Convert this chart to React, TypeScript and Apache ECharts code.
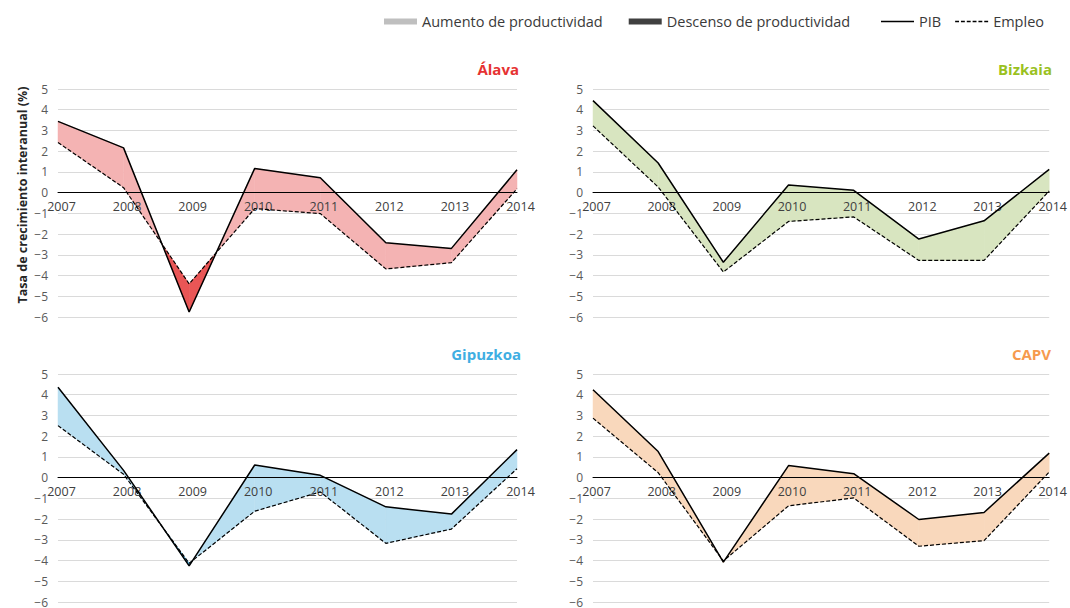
import React, { useEffect, useRef } from 'react';
import * as echarts from 'echarts';

// ---------- data ----------
const years = ['2007', '2008', '2009', '2010', '2011', '2012', '2013', '2014'];
const regionNames = ['Álava', 'Bizkaia', 'Gipuzkoa', 'CAPV'];

const pibAlava = [3.44, 2.16, -5.76, 1.17, 0.72, -2.42, -2.69, 1.1];
const empAlava = [2.42, 0.24, -4.4, -0.77, -1.01, -3.68, -3.38, 0.19];
const pibBizkaia = [4.44, 1.43, -3.36, 0.37, 0.11, -2.24, -1.36, 1.12];
const empBizkaia = [3.22, 0.27, -3.83, -1.39, -1.17, -3.27, -3.27, 0.08];
const pibGipuzkoa = [4.36, 0.35, -4.26, 0.61, 0.11, -1.41, -1.76, 1.35];
const empGipuzkoa = [2.51, 0.16, -4.13, -1.62, -0.69, -3.17, -2.48, 0.43];
const pibCAPV = [4.24, 1.26, -4.08, 0.58, 0.19, -2.02, -1.68, 1.18];
const empCAPV = [2.87, 0.24, -4.02, -1.36, -0.98, -3.31, -3.04, 0.27];

const yMin = -6;
const yMax = 5;

const legendAreaNames = ['Aumento de productividad', 'Descenso de productividad'];
const legendLineNames = ['PIB', 'Empleo'];
const yAxisTitle = 'Tasa de crecimiento interanual (%)';

// ---------- styles ----------
const FONT = 'Open Sans';
const panels = [
  { name: regionNames[0], pib: pibAlava, emp: empAlava, title: '#E63232', light: '#F4B3B3', dark: '#E95656', left: 58, top: 89, titleRight: 551, titleTop: 61 },
  { name: regionNames[1], pib: pibBizkaia, emp: empBizkaia, title: '#9AC11F', light: '#D8E5C0', dark: '#9AC11F', left: 593, top: 89, titleRight: 18, titleTop: 61 },
  { name: regionNames[2], pib: pibGipuzkoa, emp: empGipuzkoa, title: '#3FAEE2', light: '#B9DFF1', dark: '#3FAEE2', left: 58, top: 374, titleRight: 549, titleTop: 346 },
  { name: regionNames[3], pib: pibCAPV, emp: empCAPV, title: '#F69A4E', light: '#F9D8BC', dark: '#F69A4E', left: 593, top: 374, titleRight: 19, titleTop: 346 },
];
const GRID_W = 459;
const GRID_H = 228;
// move the category axis (line + labels) up to the value 0 of the value axis
const ZERO_OFFSET = -GRID_H * (0 - yMin) / (yMax - yMin);

function makeRenderItem(light: string, dark: string) {
  return (params: any, api: any) => {
    const i = api.value(0);
    const p0 = api.value(1);
    const e0 = api.value(2);
    const p1 = api.value(3);
    const e1 = api.value(4);
    const P0 = api.coord([i, p0]);
    const E0 = api.coord([i, e0]);
    const P1 = api.coord([i + 1, p1]);
    const E1 = api.coord([i + 1, e1]);
    const d0 = p0 - e0;
    const d1 = p1 - e1;
    const col = (d: number) => (d >= 0 ? light : dark);
    const children: any[] = [];
    if (d0 * d1 < 0) {
      const t = d0 / (d0 - d1);
      const C = [P0[0] + t * (P1[0] - P0[0]), P0[1] + t * (P1[1] - P0[1])];
      children.push({ type: 'polygon', shape: { points: [P0, C, E0] }, style: { fill: col(d0), stroke: col(d0), lineWidth: 0.5 } });
      children.push({ type: 'polygon', shape: { points: [C, P1, E1] }, style: { fill: col(d1), stroke: col(d1), lineWidth: 0.5 } });
    } else {
      const c = col(d0 + d1);
      children.push({ type: 'polygon', shape: { points: [P0, P1, E1, E0] }, style: { fill: c, stroke: c, lineWidth: 0.5 } });
    }
    return { type: 'group', children };
  };
}

const fmtY = (v: number) => (v < 0 ? '\u2212' + Math.abs(v) : String(v));

function buildOption() {
  const grid = panels.map((p) => ({ left: p.left, top: p.top, width: GRID_W, height: GRID_H, containLabel: false }));
  const xAxis = panels.map((p, i) => ({
    gridIndex: i,
    type: 'category',
    data: years,
    boundaryGap: false,
    position: 'bottom',
    offset: ZERO_OFFSET,
    z: 3,
    axisLine: { onZero: false, lineStyle: { color: '#000', width: 1 } },
    axisTick: { show: false },
    axisLabel: { interval: 0, color: '#404040', fontSize: 12.5, fontFamily: FONT, margin: 7, padding: [0, 0, 0, 7] },
    splitLine: { show: false },
  }));
  const yAxis = panels.map((p, i) => ({
    gridIndex: i,
    type: 'value',
    min: yMin,
    max: yMax,
    interval: 1,
    axisLine: { show: false },
    axisTick: { show: false },
    axisLabel: { color: '#595959', fontSize: 12, fontFamily: FONT, margin: 10, formatter: fmtY },
    splitLine: { lineStyle: { color: '#DADADA', width: 1 } },
  }));
  const series: any[] = [];
  panels.forEach((p, i) => {
    const segs = years.slice(0, -1).map((_, k) => [k, p.pib[k], p.emp[k], p.pib[k + 1], p.emp[k + 1]]);
    series.push({
      type: 'custom',
      name: p.name,
      xAxisIndex: i,
      yAxisIndex: i,
      z: 2,
      silent: true,
      encode: { x: 0, y: [1, 2, 3, 4] },
      renderItem: makeRenderItem(p.light, p.dark),
      data: segs,
    });
    series.push({
      type: 'line',
      name: legendLineNames[0],
      xAxisIndex: i,
      yAxisIndex: i,
      z: 4,
      symbol: 'none',
      color: '#000',
      lineStyle: { color: '#000', width: 1.5 },
      data: p.pib,
    });
    series.push({
      type: 'line',
      name: legendLineNames[1],
      xAxisIndex: i,
      yAxisIndex: i,
      z: 4,
      symbol: 'none',
      color: '#000',
      lineStyle: { color: '#000', width: 1.2, type: [4, 2] },
      data: p.emp,
    });
  });
  // legend-only series
  series.push({ type: 'line', name: legendAreaNames[0], xAxisIndex: 0, yAxisIndex: 0, data: [], color: '#BFBFBF' });
  series.push({ type: 'line', name: legendAreaNames[1], xAxisIndex: 0, yAxisIndex: 0, data: [], color: '#404040' });

  const title = panels.map((p) => ({
    text: p.name,
    right: p.titleRight,
    top: p.titleTop,
    padding: 0,
    textStyle: { color: p.title, fontSize: 15, fontWeight: 'bold', fontFamily: FONT },
  }));

  const legendText = { color: '#3A3A3A', fontSize: 14.5, fontFamily: FONT };
  const legend = [
    {
      left: 384,
      top: 14,
      padding: 0,
      itemWidth: 33,
      itemHeight: 6,
      itemGap: 26,
      selectedMode: false,
      textStyle: legendText,
      data: [
        { name: legendAreaNames[0], icon: 'rect', itemStyle: { color: '#BFBFBF', borderWidth: 0 } },
        { name: legendAreaNames[1], icon: 'rect', itemStyle: { color: '#404040', borderWidth: 0 } },
      ],
    },
    {
      left: 881,
      top: 14,
      padding: 0,
      itemWidth: 33,
      itemHeight: 6,
      itemGap: 14,
      selectedMode: false,
      textStyle: legendText,
      data: [
        { name: legendLineNames[0], icon: 'path://M0,0H30V1.4H0Z', itemStyle: { color: '#000', borderWidth: 0 } },
        {
          name: legendLineNames[1],
          icon: 'path://M0,0h4v1.3h-4zM6,0h4v1.3h-4zM12,0h4v1.3h-4zM18,0h4v1.3h-4zM24,0h4v1.3h-4zM30,0h4v1.3h-4z',
          itemStyle: { color: '#000', borderWidth: 0 },
        },
      ],
    },
  ];

  const graphic = [
    {
      type: 'text',
      x: 22,
      y: 195,
      rotation: Math.PI / 2,
      style: {
        text: yAxisTitle,
        fill: '#262626',
        font: `bold 12.5px "${FONT}"`,
        textAlign: 'center',
        textVerticalAlign: 'middle',
      },
    },
  ];

  return {
    animation: false,
    backgroundColor: '#fff',
    textStyle: { fontFamily: FONT },
    title,
    legend,
    grid,
    xAxis,
    yAxis,
    series,
    graphic,
  };
}

export default function App() {
  const ref = useRef<HTMLDivElement>(null);
  useEffect(() => {
    if (!ref.current) return;
    const chart = echarts.init(ref.current, undefined, { renderer: 'svg' });
    chart.setOption(buildOption() as any);
    return () => chart.dispose();
  }, []);
  return <div ref={ref} style={{ position: 'absolute', left: 0, top: 0, width: 1070, height: 608 }} />;
}
